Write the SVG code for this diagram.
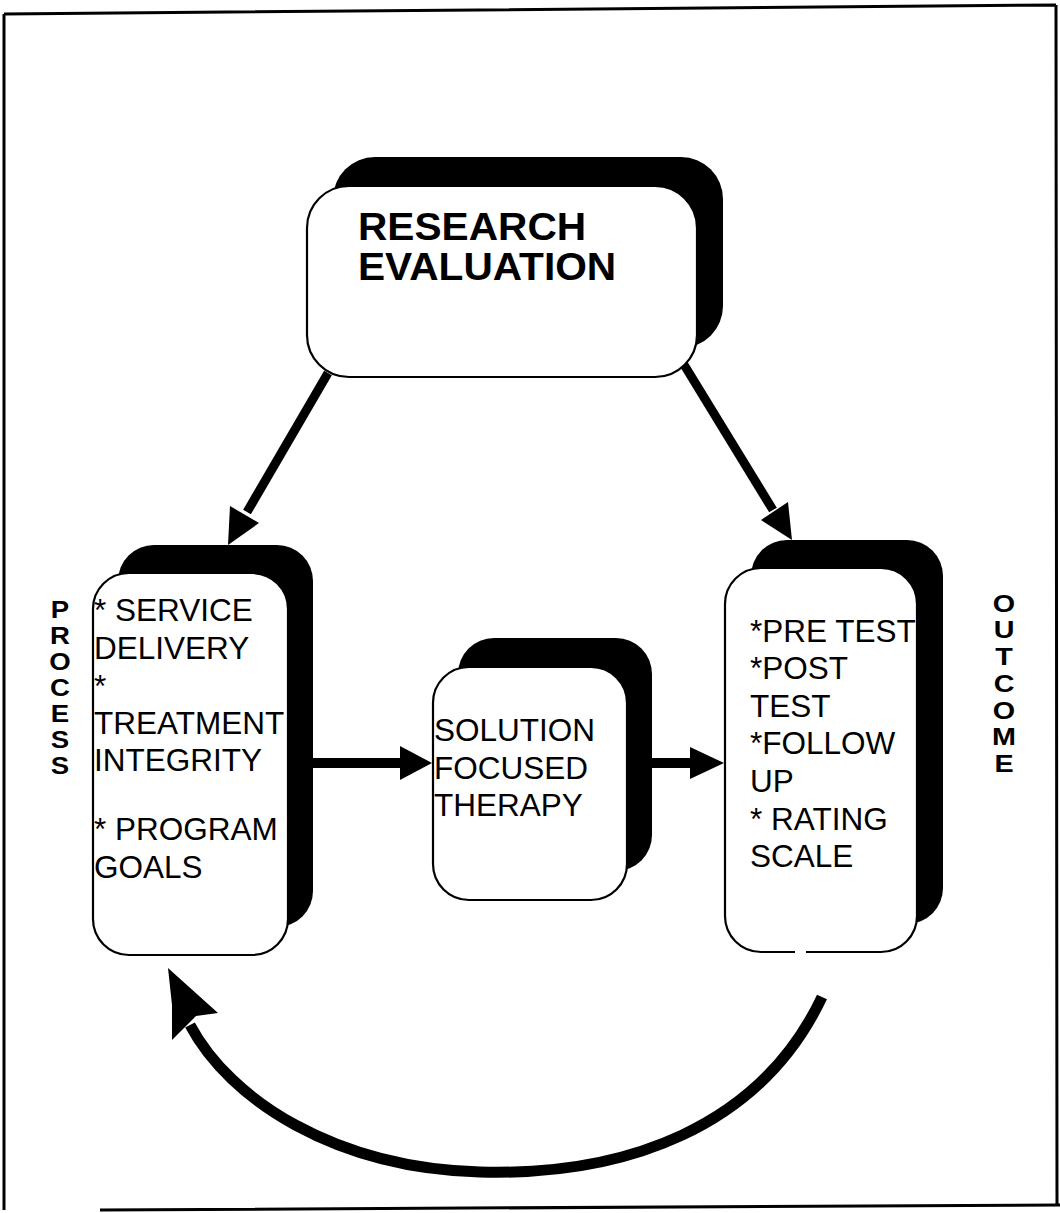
<svg xmlns="http://www.w3.org/2000/svg" width="1060" height="1213" viewBox="0 0 1060 1213">
<style>
.t{font-family:"Liberation Sans",Arial,Helvetica,sans-serif;font-size:31.5px;fill:#000}
.h{font-weight:bold;font-size:38px}
.v{font-weight:bold;text-anchor:middle;font-size:23px}
.box{fill:#fff;stroke:#000;stroke-width:2.2}
.sh{fill:#000}
.ln{stroke:#000;fill:none}
.hd{fill:#000}
</style>
<rect width="1060" height="1213" fill="#fff"/>
<g id="frame" class="ln" stroke-width="3">
<path d="M4 14 L1056 5 M4 14 L4 1210 M1056 5 L1057 1206 M100 1210 L1060 1205"/>
</g>
<g id="connectors">
<line class="ln" x1="328" y1="373" x2="247" y2="512" stroke-width="9"/>
<polygon class="hd" points="228,545 230,506 259,523"/>
<line class="ln" x1="683" y1="363" x2="773" y2="510" stroke-width="9"/>
<polygon class="hd" points="792,540 761,520 788,502"/>
<line class="ln" x1="313" y1="763" x2="405" y2="763" stroke-width="10"/>
<polygon class="hd" points="432,763 400,746 400,780"/>
<line class="ln" x1="652" y1="763" x2="695" y2="763" stroke-width="10"/>
<polygon class="hd" points="724,763 690,747 690,779"/>
<path class="ln" stroke-width="11" d="M822 997 C760 1128 625 1176 480 1172 C335 1168 230 1100 190 1025"/>
<polygon class="hd" points="168,968 218,1013 196,1016 172,1040 172,1005"/>
</g>
<g id="research-evaluation">
<rect class="sh" x="333" y="157" width="390" height="191" rx="42"/>
<rect class="box" x="307" y="186" width="390" height="191" rx="42"/>
<g transform="translate(358 0) scale(1.07 1)">
<text class="t h" x="0" y="240">RESEARCH</text>
<text class="t h" x="0" y="280">EVALUATION</text>
</g>
</g>
<g id="process">
<rect class="sh" x="118" y="545" width="195" height="382" rx="36"/>
<rect class="box" x="93" y="573" width="195" height="382" rx="36"/>
<text class="t" x="94" y="621">* SERVICE</text>
<text class="t" x="94" y="659">DELIVERY</text>
<text class="t" x="94" y="697">*</text>
<text class="t" x="94" y="734">TREATMENT</text>
<text class="t" x="94" y="771">INTEGRITY</text>
<text class="t" x="94" y="840">* PROGRAM</text>
<text class="t" x="94" y="878">GOALS</text>
<text class="t v" transform="translate(60 0) scale(1.2 1)"><tspan x="0" y="618">P</tspan><tspan x="0" y="644">R</tspan><tspan x="0" y="670">O</tspan><tspan x="0" y="696">C</tspan><tspan x="0" y="722">E</tspan><tspan x="0" y="748">S</tspan><tspan x="0" y="774">S</tspan></text>
</g>
<g id="solution-focused-therapy">
<rect class="sh" x="458" y="638" width="194" height="233" rx="36"/>
<rect class="box" x="433" y="667" width="194" height="233" rx="36"/>
<text class="t" x="434" y="741">SOLUTION</text>
<text class="t" x="434" y="779">FOCUSED</text>
<text class="t" x="434" y="816">THERAPY</text>
</g>
<g id="outcome">
<rect class="sh" x="751" y="540" width="192" height="384" rx="36"/>
<rect class="box" x="725" y="568" width="192" height="384" rx="36"/>
<rect x="795" y="948" width="11" height="8" fill="#fff"/>
<text class="t" x="750" y="642">*PRE TEST</text>
<text class="t" x="750" y="679">*POST</text>
<text class="t" x="750" y="717">TEST</text>
<text class="t" x="750" y="754">*FOLLOW</text>
<text class="t" x="750" y="792">UP</text>
<text class="t" x="750" y="830">* RATING</text>
<text class="t" x="750" y="867">SCALE</text>
<text class="t v" transform="translate(1004 0) scale(1.25 1)"><tspan x="0" y="612">O</tspan><tspan x="0" y="638.5">U</tspan><tspan x="0" y="665">T</tspan><tspan x="0" y="692">C</tspan><tspan x="0" y="719">O</tspan><tspan x="0" y="745.5">M</tspan><tspan x="0" y="772">E</tspan></text>
</g>
</svg>
